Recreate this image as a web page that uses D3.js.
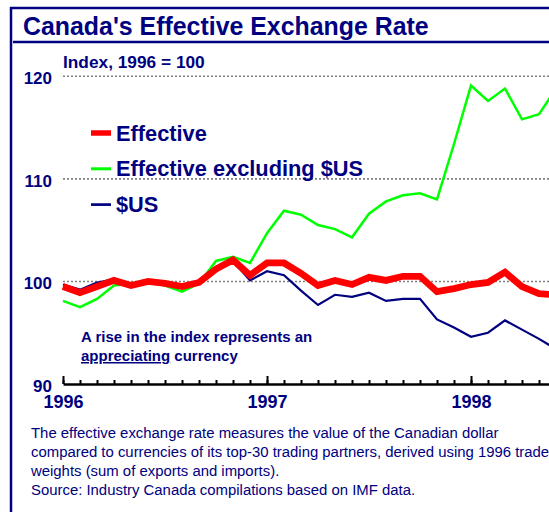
<!DOCTYPE html>
<html>
<head>
<meta charset="utf-8">
<script src="https://cdn.jsdelivr.net/npm/d3@7/dist/d3.min.js"></script>
<style>
  html, body { margin: 0; padding: 0; background: #fff; }
  svg { display: block; }
  text { font-family: "Liberation Sans", Arial, sans-serif; }
</style>
</head>
<body>
<svg id="chart" width="549" height="512"></svg>
<script>
// Monthly index values, January 1996 onward (1996 = 100)
const months = [
  "1996-01","1996-02","1996-03","1996-04","1996-05","1996-06","1996-07","1996-08","1996-09","1996-10","1996-11","1996-12",
  "1997-01","1997-02","1997-03","1997-04","1997-05","1997-06","1997-07","1997-08","1997-09","1997-10","1997-11","1997-12",
  "1998-01","1998-02","1998-03","1998-04","1998-05","1998-06"
];
const effective = [
  99.5, 98.9, 99.5, 100.1, 99.6, 100.0, 99.8, 99.5, 99.9, 101.2, 102.1, 100.6,
  101.8, 101.8, 100.8, 99.6, 100.1, 99.7, 100.4, 100.1, 100.5, 100.5, 99.0, 99.3,
  99.7, 99.9, 100.9, 99.5, 98.8, 98.7
];
const excludingUS = [
  98.1, 97.5, 98.3, 99.6, 99.8, 100.0, 99.6, 99.0, 99.8, 102.0, 102.4, 101.8,
  104.7, 106.9, 106.5, 105.5, 105.1, 104.3, 106.6, 107.8, 108.4, 108.6, 108.0, 113.4,
  119.1, 117.6, 118.8, 115.8, 116.3, 118.8
];
const usDollar = [
  99.7, 99.2, 99.9, 100.2, 99.7, 100.0, 99.8, 99.4, 99.9, 101.1, 102.0, 100.1,
  101.0, 100.6, 99.1, 97.7, 98.7, 98.5, 98.9, 98.1, 98.3, 98.3, 96.3, 95.5,
  94.6, 95.0, 96.2, 95.3, 94.4, 93.4
];
const yTicks = [90, 100, 110, 120];
const gridValues = [100, 110, 120];
const yearLabels = ["1996", "1997", "1998"];

const titleText = "Canada's Effective Exchange Rate";
const unitText = "Index, 1996 = 100";
const seriesNames = ["Effective", "Effective excluding $US", "$US"];
const noteLines = [
  "The effective exchange rate measures the value of the Canadian dollar",
  "compared to currencies of its top-30 trading partners, derived using 1996 trade",
  "weights (sum of exports and imports).",
  "Source:  Industry Canada compilations based on IMF data."
];

const NAVY = "#000080";
const svg = d3.select("#chart");
svg.append("rect").attr("width", 549).attr("height", 512).attr("fill", "#fff");

// Frame and title
svg.append("line").attr("x1", 10).attr("x2", 560).attr("y1", 8).attr("y2", 8)
  .attr("stroke", NAVY).attr("stroke-width", 2.5);
svg.append("line").attr("x1", 11).attr("x2", 11).attr("y1", 7).attr("y2", 520)
  .attr("stroke", NAVY).attr("stroke-width", 2.5);
svg.append("text").attr("x", 23).attr("y", 35).attr("fill", NAVY)
  .attr("font-size", 24.9).attr("font-weight", "bold").text(titleText);
svg.append("line").attr("x1", 13).attr("x2", 560).attr("y1", 42).attr("y2", 42)
  .attr("stroke", NAVY).attr("stroke-width", 2.5);

// Scales: one step per month
const monthIndex = months.map((m, i) => i);
const x = d3.scaleLinear().domain([0, 36]).range([63, 63 + 17 * 36]);
const y = d3.scaleLinear().domain([90, 120]).range([384, 76.3]);

const plotRight = 549;

// Dotted gridlines
svg.append("g").selectAll("line").data(gridValues).join("line")
  .attr("x1", x(0)).attr("x2", plotRight)
  .attr("y1", d => y(d)).attr("y2", d => y(d))
  .attr("stroke", "#808080").attr("stroke-width", 1.6)
  .attr("stroke-dasharray", "2,2");

// Y axis labels
const yAxis = svg.append("g").attr("transform", `translate(${x(0)},0)`)
  .call(d3.axisLeft(y).tickValues(yTicks).tickSize(0).tickPadding(11).tickFormat(d3.format("d")));
yAxis.select(".domain").remove();
yAxis.selectAll("text").attr("fill", NAVY).attr("font-size", 17).attr("font-weight", "bold")
  .attr("dy", "0.42em").style("font-family", "'Liberation Sans', Arial, sans-serif");

svg.append("text").attr("x", 63).attr("y", 68).attr("fill", NAVY)
  .attr("font-size", 17.3).attr("font-weight", "bold").text(unitText);

// X axis: minor monthly ticks and yearly major ticks, drawn upward
const xEnd = 36;
const minorTicks = d3.range(0, xEnd + 1);
const majorTicks = yearLabels.map((d, i) => i * 12);

const xMinor = svg.append("g").attr("transform", `translate(0,${y(90)})`)
  .call(d3.axisBottom(x).tickValues(minorTicks).tickSize(-4).tickSizeOuter(0).tickFormat(""));
xMinor.select(".domain").attr("stroke", "#000").attr("stroke-width", 2.5);
xMinor.selectAll(".tick line").attr("stroke", "#000").attr("stroke-width", 2);

const xMajor = svg.append("g").attr("transform", `translate(0,${y(90)})`)
  .call(d3.axisBottom(x).tickValues(majorTicks).tickSize(-8).tickSizeOuter(0).tickPadding(11)
    .tickFormat((d, i) => yearLabels[i]));
xMajor.select(".domain").remove();
xMajor.selectAll(".tick line").attr("stroke", "#000").attr("stroke-width", 2);
xMajor.selectAll("text").attr("fill", NAVY).attr("font-size", 18).attr("font-weight", "bold")
  .style("font-family", "'Liberation Sans', Arial, sans-serif");

// Series lines
const line = d3.line().x((d, i) => x(monthIndex[i])).y(d => y(d));
const series = [
  { name: seriesNames[1], values: excludingUS, color: "#00ff00", width: 2.5 },
  { name: seriesNames[2], values: usDollar, color: NAVY, width: 2.2 },
  { name: seriesNames[0], values: effective, color: "#ff0000", width: 6.8 }
];
svg.append("g").selectAll("path").data(series).join("path")
  .attr("d", d => line(d.values))
  .attr("fill", "none")
  .attr("stroke", d => d.color)
  .attr("stroke-width", d => d.width)
  .attr("stroke-linejoin", "miter");

// Legend
const legendItems = [series[2], series[0], series[1]];
const legend = svg.append("g");
legendItems.forEach((s, i) => {
  const cy = 133 + i * 35.8;
  legend.append("line").attr("x1", 91).attr("x2", 111).attr("y1", cy).attr("y2", cy)
    .attr("stroke", s.color).attr("stroke-width", s.width > 6 ? 5.5 : s.width + 0.5);
  legend.append("text").attr("x", 116).attr("y", cy + 7.5).attr("fill", NAVY)
    .attr("font-size", 21.8).attr("font-weight", "bold").text(s.name);
});

// Annotation
const note = svg.append("text").attr("x", 81).attr("y", 342).attr("fill", NAVY)
  .attr("font-size", 15).attr("font-weight", "bold");
note.append("tspan").text("A rise in the index represents an");
const l2 = svg.append("text").attr("x", 81).attr("y", 361).attr("fill", NAVY)
  .attr("font-size", 15).attr("font-weight", "bold");
l2.append("tspan").attr("text-decoration", "underline").text("appreciating");
l2.append("tspan").text(" currency");

// Footnote
svg.append("g").selectAll("text").data(noteLines).join("text")
  .attr("x", 31).attr("y", (d, i) => 438 + i * 19)
  .attr("fill", NAVY).attr("font-size", 14.9).text(d => d);
</script>
</body>
</html>
